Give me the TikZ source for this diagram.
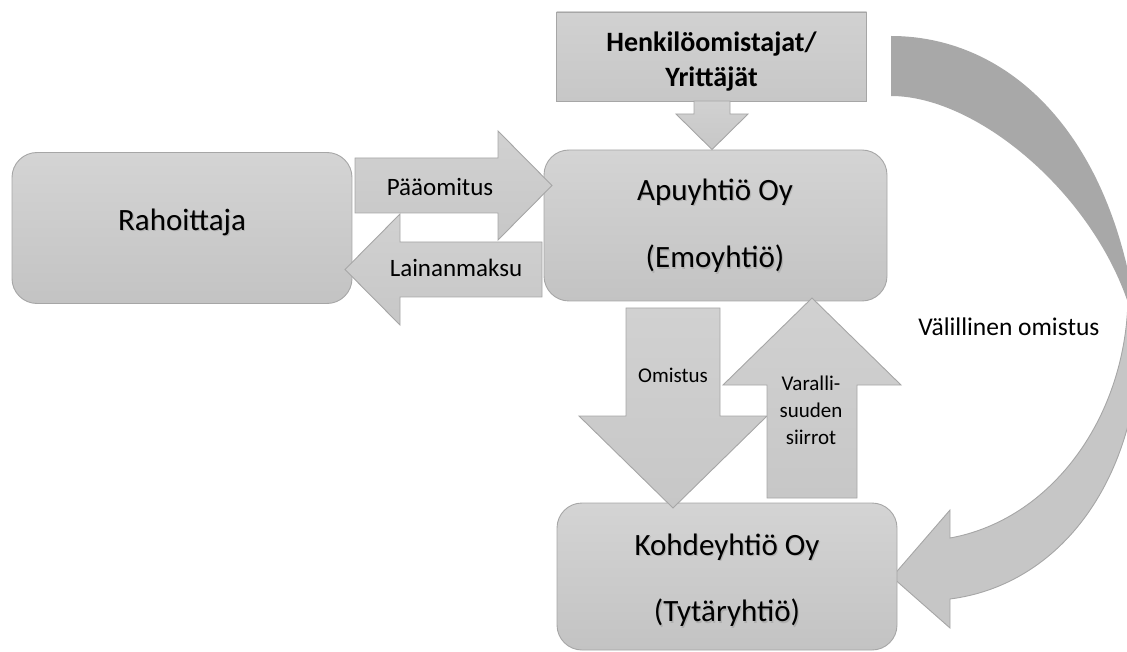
\documentclass[tikz,border=0pt]{standalone}
\usepackage{fontspec}
\setmainfont{Carlito}
\definecolor{boxline}{HTML}{A6A6A6}
\definecolor{boxtop}{HTML}{D4D4D4}
\definecolor{boxbot}{HTML}{C3C3C3}
\definecolor{arrtop}{HTML}{D1D1D1}
\definecolor{arrbot}{HTML}{C7C7C7}
\definecolor{ribdark}{HTML}{A8A8A8}
\definecolor{riblight}{HTML}{C6C6C6}
\tikzset{
  rbox/.style={draw=boxline, line width=0.9pt, top color=boxtop, bottom color=boxbot,
    rounded corners=25pt, inner sep=0pt},
  sbox/.style={draw=boxline, line width=0.9pt, top color=arrtop, bottom color=arrbot, inner sep=0pt},
  blockarrow/.style={draw=boxline, line width=0.9pt, top color=arrtop, bottom color=arrbot, line join=miter},
  bigtext/.style={font=\fontsize{31}{37}\selectfont, inner sep=0pt},
  midtext/.style={font=\fontsize{25}{30}\selectfont, inner sep=0pt},
  smalltext/.style={font=\fontsize{21}{27}\selectfont, inner sep=0pt, align=center},
  headtext/.style={font=\fontsize{28}{35}\selectfont\bfseries, inner sep=0pt, align=center},
  shadowed/.style={text=black!40, opacity=0.5},
}
\begin{document}
\begin{tikzpicture}[x=1pt, y=-1pt]
\useasboundingbox (0,0) rectangle (1127,652);

% curved ownership ribbon: darker back side, lighter front side with the head
\fill[ribdark] (891,36) .. controls (1000,36) and (1100,120) .. (1132,290)
  -- (1132,316) .. controls (1100,200) and (980,96) .. (891,96) -- cycle;
\path[draw=boxline, line width=0.9pt, fill=riblight, line join=miter]
  (1140,330) .. controls (1140,480) and (1060,585) .. (950,599)
  -- (950,628) -- (892,577) -- (950,510) -- (950,538)
  .. controls (1050,520) and (1125,420) .. (1128,300) -- cycle;
\node[font=\fontsize{25.5}{30}\selectfont, inner sep=0pt] (valillinen) at (1009,327) {Välillinen omistus};

% boxes
\node[rbox, minimum width=340pt, minimum height=151pt] (rahoittaja) at (182,228) {};
\node[rbox, minimum width=343pt, minimum height=151pt] (apu) at (715.5,225.5) {};
\node[rbox, minimum width=340pt, minimum height=147pt] (kohde) at (727,576.5) {};
\node[sbox, minimum width=310pt, minimum height=89pt] (omistajat) at (711.5,56.5) {};

% block arrows
\path[blockarrow] (694,101) -- (730,101) -- (730,114) -- (748,114) -- (712,149.5)
  -- (676,114) -- (694,114) -- cycle;
\path[blockarrow] (355,158) -- (498,158) -- (498,131) -- (552,185.5) -- (498,240)
  -- (498,213) -- (355,213) -- cycle;
\path[blockarrow] (542,242) -- (400,242) -- (400,214) -- (345,269.5) -- (400,325)
  -- (400,297) -- (542,297) -- cycle;
\path[blockarrow] (626,308) -- (720,308) -- (720,416) -- (767,416) -- (673,508)
  -- (579,416) -- (626,416) -- cycle;
\path[blockarrow] (767,498) -- (767,385) -- (723,385) -- (812,298) -- (901,385)
  -- (857,385) -- (857,498) -- cycle;

% labels
\node[bigtext, shadowed] at (183.2,223.2) {Rahoittaja};
\node[bigtext] (t-rah) at (182,222) {Rahoittaja};
\node[bigtext, shadowed] at (716.2,193.2) {Apuyhtiö Oy};
\node[bigtext] (t-apu1) at (715,192) {Apuyhtiö Oy};
\node[bigtext, shadowed] at (716.2,260.2) {(Emoyhtiö)};
\node[bigtext] (t-apu2) at (715,259) {(Emoyhtiö)};
\node[bigtext, shadowed] at (728.2,548.2) {Kohdeyhtiö Oy};
\node[bigtext] (t-koh1) at (727,547) {Kohdeyhtiö Oy};
\node[bigtext, shadowed] at (728.2,614.2) {(Tytäryhtiö)};
\node[bigtext] (t-koh2) at (727,613) {(Tytäryhtiö)};
\node[headtext] (t-omi) at (711.5,62) {Henkilöomistajat/\\Yrittäjät};
\node[midtext] (t-paa) at (440,187) {Pääomitus};
\node[midtext] (t-lai) at (456,268) {Lainanmaksu};
\node[smalltext] (t-omistus) at (673,375) {Omistus};
\node[smalltext] (t-var) at (811,410) {Varalli-\\suuden\\siirrot};
\end{tikzpicture}
\end{document}
